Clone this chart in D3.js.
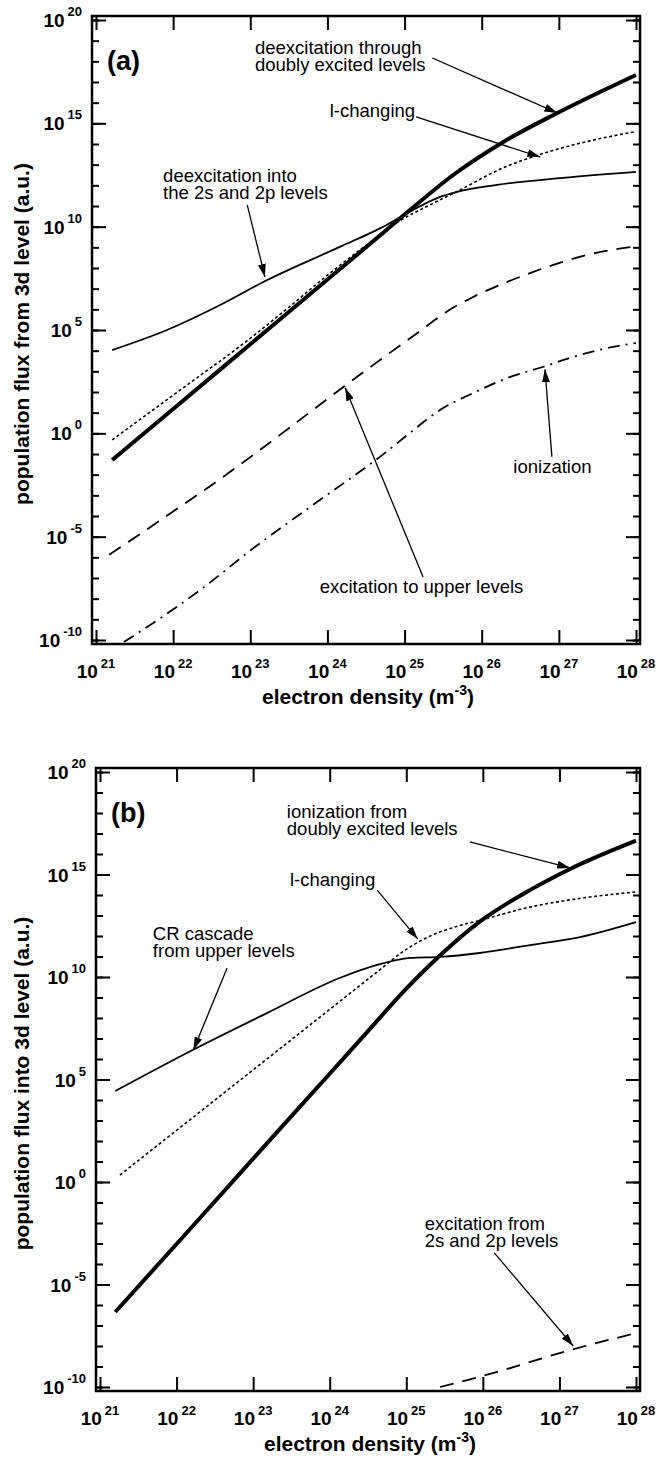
<!DOCTYPE html>
<html>
<head>
<meta charset="utf-8">
<script src="https://cdn.jsdelivr.net/npm/d3@7"></script>
<style>
body { margin: 0; background: #fff; }
svg text { font-family: "Liberation Sans", Arial, Helvetica, sans-serif; fill: #000; }
</style>
</head>
<body>
<svg id="fig" width="669" height="1465"></svg>
<script>
// tick labels (exponents of ten)
const neExps = [21, 22, 23, 24, 25, 26, 27, 28];
const fluxMajorExps = [20, 15, 10, 5, 0, -5, -10];

// curves as [log10 ne, log10 flux]
// panel (a): population flux from 3d level
const aDoubly = [[21.21,-1.29],[22.0,1.18],[23.0,4.31],[24.0,7.44],[24.7,9.63],[25.1,10.9],[25.63,12.5],[26.28,14.1],[26.98,15.5],[28.0,17.34]];
const aLChanging = [[21.21,-0.32],[22.0,1.85],[23.0,4.6],[23.5,6.1],[24.0,7.65],[24.5,9.1],[24.9,10.2],[25.3,11.0],[25.68,11.7],[26.28,12.85],[26.76,13.5],[27.4,14.15],[28.0,14.6]];
const aInto2s2p = [[21.21,4.03],[21.92,5.0],[22.61,6.21],[23.22,7.42],[24.16,9.02],[24.72,9.99],[25.11,10.81],[25.46,11.44],[25.68,11.68],[26.20,12.02],[27.05,12.36],[28.0,12.65]];
const aExcUpper = [[21.17,-5.88],[21.6,-4.8],[22.05,-3.65],[22.52,-2.45],[23.0,-1.15],[23.5,0.25],[24.03,1.75],[24.59,3.3],[25.2,4.95],[25.55,5.9],[25.89,6.6],[26.28,7.25],[26.66,7.8],[27.05,8.3],[27.44,8.7],[28.0,9.05]];
const aIonization = [[21.36,-10.1],[21.86,-8.88],[22.35,-7.58],[23.06,-5.5],[23.72,-3.71],[24.45,-1.77],[24.68,-1.14],[25.07,0.02],[25.46,1.13],[25.89,1.95],[26.37,2.73],[26.79,3.21],[27.27,3.79],[27.70,4.18],[28.0,4.37]];

// panel (b): population flux into 3d level
const bDoublyIon = [[21.2,-6.34],[22.3,-1.78],[23.3,2.38],[24.0,5.28],[24.5,7.36],[25.0,9.43],[25.44,11.05],[25.96,12.7],[26.62,14.25],[27.14,15.27],[28.0,16.65]];
const bLChanging = [[21.26,0.34],[22.0,2.52],[23.0,5.47],[24.0,8.42],[24.6,10.19],[25.0,11.35],[25.3,11.98],[25.6,12.4],[26.0,12.8],[26.6,13.4],[27.3,13.85],[28.0,14.15]];
const bCascade = [[21.2,4.44],[22.21,6.44],[23.18,8.24],[24.13,9.95],[24.62,10.59],[25.05,10.93],[25.44,10.98],[25.96,11.17],[26.62,11.56],[27.27,11.95],[28.0,12.68]];
const bExc2s2p = [[25.44,-10.0],[26.0,-9.46],[27.14,-8.2],[28.0,-7.37]];

const lineStyles = {
  thick:   { w: 4,   dash: null },
  solid:   { w: 1.8, dash: null },
  dotted:  { w: 1.6, dash: "3,2.5" },
  dashed:  { w: 1.8, dash: "14,9" },
  dashdot: { w: 1.8, dash: "12,6,2,6" }
};

const panels = [
  {
    key: "a", label: "(a)",
    yTitle: "population flux from 3d level (a.u.)",
    frame: { x0: 92, x1: 640, y0: 16, y1: 644 },
    series: [
      { pts: aInto2s2p, style: "solid" },
      { pts: aLChanging, style: "dotted" },
      { pts: aExcUpper, style: "dashed" },
      { pts: aIonization, style: "dashdot" },
      { pts: aDoubly, style: "thick" }
    ],
    notes: [
      { lines: ["deexcitation through", "doubly excited levels"], at: [23.06, 18.35], from: [25.36, 18.16], to: [26.98, 15.5] },
      { lines: ["l-changing"], at: [24.03, 15.31], from: [25.15, 15.31], to: [26.76, 13.37] },
      { lines: ["deexcitation into", "the 2s and 2p levels"], at: [21.87, 12.16], from: [22.96, 11.05], to: [23.19, 7.57] },
      { lines: ["ionization"], at: [26.41, -1.92], from: [26.91, -1.14], to: [26.82, 3.1] },
      { lines: ["excitation to upper levels"], at: [23.9, -7.72], from: [25.24, -6.95], to: [24.23, 2.2] }
    ]
  },
  {
    key: "b", label: "(b)",
    yTitle: "population flux into 3d level (a.u.)",
    frame: { x0: 96, x1: 640, y0: 768, y1: 1391 },
    series: [
      { pts: bCascade, style: "solid" },
      { pts: bLChanging, style: "dotted" },
      { pts: bExc2s2p, style: "dashed" },
      { pts: bDoublyIon, style: "thick" }
    ],
    notes: [
      { lines: ["ionization from", "doubly excited levels"], at: [23.44, 17.76], from: [25.83, 16.59], to: [27.14, 15.32] },
      { lines: ["l-changing"], at: [23.48, 14.44], from: [24.62, 14.24], to: [25.15, 11.85] },
      { lines: ["CR cascade", "from upper levels"], at: [21.69, 11.8], from: [22.66, 10.44], to: [22.22, 6.44] },
      { lines: ["excitation from", "2s and 2p levels"], at: [25.24, -2.34], from: [26.15, -3.46], to: [27.18, -8.0] }
    ]
  }
];

const svg = d3.select("#fig");
const pad = 4;

const defs = svg.append("defs");
defs.append("marker")
    .attr("id", "arrow")
    .attr("markerUnits", "userSpaceOnUse")
    .attr("markerWidth", 14).attr("markerHeight", 8)
    .attr("refX", 13).attr("refY", 4)
    .attr("orient", "auto")
  .append("path")
    .attr("d", "M0,0 L13,4 L0,8 Z")
    .attr("fill", "#000");

panels.forEach(function (p) {
  var f = p.frame;
  var x = d3.scaleLog().domain([1e21, 1e28]).range([f.x0 + pad, f.x1 - pad]);
  var y = d3.scaleLog().domain([1e-10, 1e20]).range([f.y1 - pad, f.y0 + pad]);
  var X = function (e) { return x(Math.pow(10, e)); };
  var Y = function (e) { return y(Math.pow(10, e)); };

  var g = svg.append("g").attr("class", "panel-" + p.key);

  defs.append("clipPath").attr("id", "clip-" + p.key)
    .append("rect")
    .attr("x", f.x0).attr("y", f.y0)
    .attr("width", f.x1 - f.x0).attr("height", f.y1 - f.y0);

  // ticks, all pointing inward
  var majors = fluxMajorExps.map(function (e) { return Math.pow(10, e); });
  var minors = d3.range(-10, 21).map(function (e) { return Math.pow(10, e); });
  var decades = neExps.map(function (e) { return Math.pow(10, e); });

  function addAxis(axis, tx, ty) {
    var a = g.append("g").attr("transform", "translate(" + tx + "," + ty + ")").call(axis);
    a.select(".domain").remove();
    a.selectAll(".tick line").attr("stroke", "#000").attr("stroke-width", 2);
    a.selectAll(".tick text").remove();
  }
  addAxis(d3.axisLeft(y).tickValues(minors).tickSize(-7), f.x0, 0);
  addAxis(d3.axisLeft(y).tickValues(majors).tickSize(-14), f.x0, 0);
  addAxis(d3.axisRight(y).tickValues(minors).tickSize(-7), f.x1, 0);
  addAxis(d3.axisRight(y).tickValues(majors).tickSize(-14), f.x1, 0);
  addAxis(d3.axisBottom(x).tickValues(decades).tickSize(-14), 0, f.y1);
  addAxis(d3.axisTop(x).tickValues(decades).tickSize(-14), 0, f.y0);

  // frame
  g.append("rect")
    .attr("x", f.x0).attr("y", f.y0)
    .attr("width", f.x1 - f.x0).attr("height", f.y1 - f.y0)
    .attr("fill", "none").attr("stroke", "#000").attr("stroke-width", 2.5);

  // y tick labels
  fluxMajorExps.forEach(function (e) {
    var t = g.append("text")
      .attr("x", f.x0 - 10).attr("y", Y(e) + 7)
      .attr("text-anchor", "end")
      .style("font-size", "19px").style("font-weight", "bold");
    t.append("tspan").text("10");
    t.append("tspan").attr("dx", 3).attr("dy", -11).style("font-size", "13px").text(e);
  });

  // x tick labels
  neExps.forEach(function (e) {
    var t = g.append("text")
      .attr("x", X(e)).attr("y", f.y1 + 34)
      .attr("text-anchor", "middle")
      .style("font-size", "19px").style("font-weight", "bold");
    t.append("tspan").text("10");
    t.append("tspan").attr("dx", 3).attr("dy", -10).style("font-size", "13px").text(e);
  });

  // axis titles
  var xt = g.append("text")
    .attr("x", (f.x0 + f.x1) / 2 + 2).attr("y", f.y1 + 60)
    .attr("text-anchor", "middle")
    .style("font-size", "21px").style("font-weight", "bold");
  xt.append("tspan").text("electron density (m");
  xt.append("tspan").attr("dy", -9).style("font-size", "14px").text("-3");
  xt.append("tspan").attr("dy", 9).text(")");

  g.append("text")
    .attr("transform", "translate(29," + ((f.y0 + f.y1) / 2 + 4) + ") rotate(-90)")
    .attr("text-anchor", "middle")
    .style("font-size", "21px").style("font-weight", "bold")
    .text(p.yTitle);

  // panel label
  g.append("text")
    .attr("x", f.x0 + 15).attr("y", f.y0 + 54)
    .style("font-size", "27px").style("font-weight", "bold")
    .text(p.label);

  // curves
  var line = d3.line()
    .x(function (d) { return X(d[0]); })
    .y(function (d) { return Y(d[1]); })
    .curve(d3.curveMonotoneX);

  var curves = g.append("g").attr("clip-path", "url(#clip-" + p.key + ")");
  p.series.forEach(function (s) {
    var st = lineStyles[s.style];
    curves.append("path")
      .datum(s.pts)
      .attr("d", line)
      .attr("fill", "none")
      .attr("stroke", "#000")
      .attr("stroke-width", st.w)
      .attr("stroke-dasharray", st.dash)
      .attr("stroke-linejoin", "round");
  });

  // annotations
  p.notes.forEach(function (n) {
    var t = g.append("text")
      .attr("x", X(n.at[0])).attr("y", Y(n.at[1]))
      .style("font-size", "18.5px");
    n.lines.forEach(function (s, i) {
      t.append("tspan").attr("x", X(n.at[0])).attr("dy", i === 0 ? 0 : 17).text(s);
    });
    g.append("line")
      .attr("x1", X(n.from[0])).attr("y1", Y(n.from[1]))
      .attr("x2", X(n.to[0])).attr("y2", Y(n.to[1]))
      .attr("stroke", "#000").attr("stroke-width", 1.3)
      .attr("marker-end", "url(#arrow)");
  });
});
</script>
</body>
</html>
